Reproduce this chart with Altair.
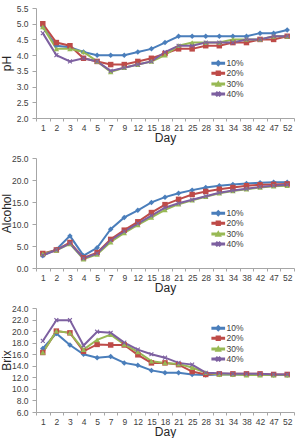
import altair as alt
import pandas as pd

days = [1, 2, 3, 4, 5, 7, 9, 12, 15, 18, 21, 25, 28, 31, 34, 38, 42, 47, 52]
series = ["10%", "20%", "30%", "40%"]
colors = ["#4A7EBB", "#BE4B48", "#98B954", "#7D60A0"]

ph_10 = [4.9, 4.3, 4.25, 4.1, 4.0, 4.0, 4.0, 4.1, 4.2, 4.4, 4.6, 4.6, 4.6, 4.6, 4.6, 4.6, 4.7, 4.7, 4.8]
ph_20 = [5.0, 4.4, 4.3, 3.9, 3.8, 3.7, 3.7, 3.8, 3.9, 4.05, 4.2, 4.2, 4.3, 4.3, 4.4, 4.4, 4.5, 4.5, 4.6]
ph_30 = [4.9, 4.2, 4.2, 4.1, 3.8, 3.47, 3.6, 3.7, 3.8, 4.0, 4.3, 4.4, 4.4, 4.4, 4.5, 4.5, 4.5, 4.6, 4.6]
ph_40 = [4.7, 4.0, 3.8, 3.9, 3.8, 3.5, 3.6, 3.7, 3.8, 4.1, 4.3, 4.3, 4.4, 4.4, 4.4, 4.5, 4.5, 4.6, 4.6]

alc_10 = [2.8, 4.2, 7.3, 2.8, 4.6, 8.8, 11.5, 13.1, 14.9, 16.1, 17.0, 17.7, 18.3, 18.7, 19.0, 19.2, 19.4, 19.5, 19.5]
alc_20 = [3.3, 4.1, 5.8, 2.3, 3.5, 6.5, 8.6, 10.5, 12.6, 14.4, 15.6, 16.7, 17.4, 17.9, 18.3, 18.7, 18.9, 19.0, 19.1]
alc_30 = [3.2, 4.0, 5.5, 2.0, 3.1, 5.9, 8.0, 9.8, 11.5, 13.2, 14.5, 15.4, 16.2, 17.0, 17.5, 17.9, 18.3, 18.6, 18.7]
alc_40 = [2.9, 4.1, 5.6, 2.2, 3.3, 6.3, 8.3, 10.1, 11.9, 13.7, 14.7, 15.5, 16.3, 17.1, 17.6, 18.0, 18.4, 18.7, 18.9]

brix_10 = [17.0, 19.6, 17.6, 16.0, 15.4, 15.6, 14.5, 14.1, 13.2, 12.8, 12.8, 12.5, 12.4, 12.5, 12.5, 12.5, 12.5, 12.4, 12.4]
brix_20 = [16.3, 20.0, 19.7, 16.5, 17.7, 17.6, 17.6, 15.9, 14.5, 14.5, 14.2, 13.0, 12.5, 12.6, 12.6, 12.6, 12.6, 12.5, 12.5]
brix_30 = [16.3, 20.0, 19.7, 16.8, 18.5, 19.4, 17.7, 16.4, 14.8, 14.5, 14.3, 13.7, 12.8, 12.5, 12.5, 12.4, 12.4, 12.4, 12.4]
brix_40 = [18.3, 21.9, 21.9, 17.5, 19.9, 19.7, 18.0, 16.8, 16.0, 15.4, 14.5, 14.2, 12.8, 12.7, 12.6, 12.6, 12.6, 12.5, 12.5]

FONT = "Liberation Sans"

XPATH = ("M0.85,-0.57L0.28,0L0.85,0.57L0.57,0.85L0,0.28L-0.57,0.85L-0.85,0.57"
         "L-0.28,0L-0.85,-0.57L-0.57,-0.85L0,-0.28L0.57,-0.85Z")
marker_shapes = ["diamond", "square", "triangle-up", XPATH]

LINE = "M-2.6,-0.3L2.6,-0.3L2.6,0.3L-2.6,0.3Z"
legend_shapes = [
    LINE + "M0,-1L1,0L0,1L-1,0Z",
    LINE + "M-0.8,-0.8L0.8,-0.8L0.8,0.8L-0.8,0.8Z",
    LINE + "M0,-1L1,0.8L-1,0.8Z",
    LINE + XPATH,
]


def long_df(lists):
    rows = []
    for s, vals in zip(series, lists):
        for d, v in zip(days, vals):
            rows.append({"Day": d, "Series": s, "v": v})
    return pd.DataFrame(rows)


cscale = alt.Scale(domain=series, range=colors)


def panel(df, ytitle, domain, values, height, legend_y):
    x = alt.X("Day:O", sort=days,
              scale=alt.Scale(type="band", paddingInner=0, paddingOuter=0),
              axis=alt.Axis(title="Day", labelAngle=0, tickBand="extent",
                            tickSize=3, labelPadding=2, titlePadding=1))
    y = alt.Y("v:Q", scale=alt.Scale(domain=domain, nice=False, zero=False),
              axis=alt.Axis(title=ytitle, values=values, format=".1f",
                            tickSize=4, labelPadding=4,
                            titleX=-23, titleY=height / 2, titleAngle=270,
                            titleBaseline="bottom", titleAlign="center"))
    base = alt.Chart(df).encode(x=x, y=y)
    leg_def = alt.Legend(title=None, orient="none", legendX=178, legendY=legend_y,
                         symbolSize=22, labelOffset=4, rowPadding=-1.2, padding=0,
                         labelFontSize=8.5, labelFont=FONT, labelColor="#404040")
    leg = (base.transform_filter("false")
           .mark_point(filled=True, opacity=1)
           .encode(color=alt.Color("Series:N", scale=cscale, legend=leg_def),
                   shape=alt.Shape("Series:N",
                                   scale=alt.Scale(domain=series, range=legend_shapes),
                                   legend=leg_def)))
    lines = base.mark_line(strokeWidth=2).encode(
        color=alt.Color("Series:N", scale=cscale, legend=None),
        detail="Series:N")
    pts = []
    for s, shp in zip(series, marker_shapes):
        pts.append(
            base.transform_filter(alt.datum.Series == s)
            .mark_point(filled=True, shape=shp, size=30, opacity=1)
            .encode(color=alt.Color("Series:N", scale=cscale, legend=None)))
    return alt.layer(leg, lines, *pts).properties(width=258, height=height)


p1 = panel(long_df([ph_10, ph_20, ph_30, ph_40]), "pH", [2.0, 5.5],
           [2.0, 2.5, 3.0, 3.5, 4.0, 4.5, 5.0, 5.5], 110, 51)
p2 = panel(long_df([alc_10, alc_20, alc_30, alc_40]), "Alcohol", [0, 25],
           [0, 5, 10, 15, 20, 25], 110, 51)
p3 = panel(long_df([brix_10, brix_20, brix_30, brix_40]), "Brix", [6, 24],
           [6, 8, 10, 12, 14, 16, 18, 20, 22, 24], 104, 16)

chart = (alt.vconcat(p1, p2, p3, spacing=10)
         .resolve_scale(color="independent", shape="independent")
         .resolve_legend(color="independent", shape="independent")
         .properties(padding={"left": 0, "top": 4, "right": 0, "bottom": 0})
         .configure_view(strokeWidth=0)
         .configure_axis(labelFont=FONT, titleFont=FONT, labelFontSize=8.5,
                         labelColor="#404040", titleFontSize=12,
                         titleFontWeight="normal", titleColor="#262626",
                         domainColor="#A6A6A6", tickColor="#A6A6A6", grid=False))

chart.save("out.html", embed_options={"renderer": "svg", "actions": False})
